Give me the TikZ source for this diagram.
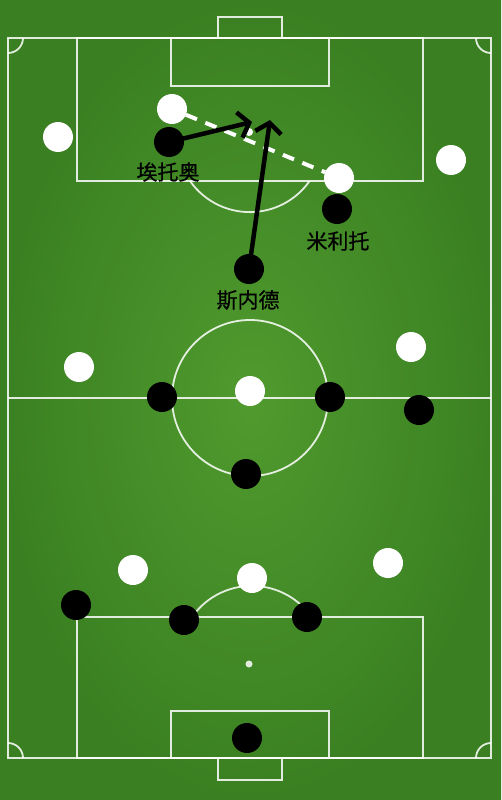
\documentclass[tikz,border=0pt]{standalone}
\usepackage{fontspec}
\newfontfamily\cjk[FakeBold=0.6]{Noto Sans CJK SC}
\usetikzlibrary{arrows.meta}
\definecolor{grass}{RGB}{80,154,46}
\definecolor{darkgrass}{RGB}{58,128,34}
\tikzstyle{pitch}=[white, line width=1.8pt, opacity=0.85]
\tikzstyle{home}=[circle, fill=black, minimum size=30pt,
                  inner sep=0pt, outer sep=0pt]
\tikzstyle{away}=[circle, fill=white, minimum size=30pt,
                  inner sep=0pt, outer sep=0pt]
\tikzstyle{tag}=[font=\cjk\fontsize{21}{21}\selectfont,
                 text=black, inner sep=0pt]
\tikzstyle{run}=[->, >={Straight Barb[length=10pt,width=26pt]},
                 line width=4.5pt, shorten <=-2pt]
\tikzstyle{pass}=[white, line width=4pt, dash pattern=on 12pt off 9pt]

\begin{document}
\begin{tikzpicture}[x=1pt, y=-1pt]
    \useasboundingbox (0,0) rectangle (501,800);
    \shade[inner color=grass, outer color=darkgrass] (0,0) rectangle (501,800);

    % pitch markings
    \draw[pitch] (8,38) rectangle (491,758);
    \draw[pitch] (8,398) -- (491,398);
    \draw[pitch] (250,398) circle (78);
    \draw[pitch] (77,38) rectangle (423,181);
    \draw[pitch] (171,38) rectangle (329,86);
    \draw[pitch] (218,38) rectangle (282,17);
    \draw[pitch] (77,758) rectangle (423,617);
    \draw[pitch] (171,758) rectangle (329,711);
    \draw[pitch] (218,758) rectangle (282,780);
    \draw[pitch] (190,181) arc[start angle=145, end angle=35, radius=73];
    \draw[pitch] (192,617) arc[start angle=215, end angle=325, radius=73];
    \draw[pitch] (8,53) arc[start angle=90, end angle=0, radius=15];
    \draw[pitch] (476,38) arc[start angle=180, end angle=90, radius=15];
    \draw[pitch] (23,758) arc[start angle=360, end angle=270, radius=15];
    \draw[pitch] (491,743) arc[start angle=270, end angle=180, radius=15];
    \fill[white, opacity=0.85] (249,664) circle (3.5);

    % ball
    \node (ball) at (249,132) [circle, fill=white, minimum size=8pt, inner sep=0pt]{};

    % white team
    \node (w1) at (172,109) [away]{};
    \node (w2) at (58,137)  [away]{};
    \node (w3) at (339,178) [away]{};
    \node (w4) at (451,160) [away]{};
    \node (w5) at (79,367)  [away]{};
    \node (w6) at (250,391) [away]{};
    \node (w7) at (411,347) [away]{};
    \node (w8) at (133,570) [away]{};
    \node (w9) at (252,578) [away]{};
    \node (w10) at (388,563) [away]{};

    % black team
    \node (e) at (169,142) [home]{};
    \node (m) at (337,209) [home]{};
    \node (s) at (249,269) [home]{};
    \node (b1) at (162,397) [home]{};
    \node (b2) at (330,397) [home]{};
    \node (b3) at (419,410) [home]{};
    \node (b4) at (246,474) [home]{};
    \node (b5) at (76,605)  [home]{};
    \node (b6) at (184,620) [home]{};
    \node (b7) at (307,617) [home]{};
    \node (gk) at (247,738) [home]{};

    \node (e name) at (168,172) [tag]{埃托奥};
    \node (m name) at (338,241) [tag]{米利托};
    \node (s name) at (248,300) [tag]{斯内德};

    % moves
    \draw [pass] (w1) to (w3);
    \coordinate (e end) at (252,122);
    \coordinate (s end) at (270,120);
    \foreach \u/\v in {e/e end,s/s end}
      \draw [run] (\u) to (\v);
\end{tikzpicture}
\end{document}
